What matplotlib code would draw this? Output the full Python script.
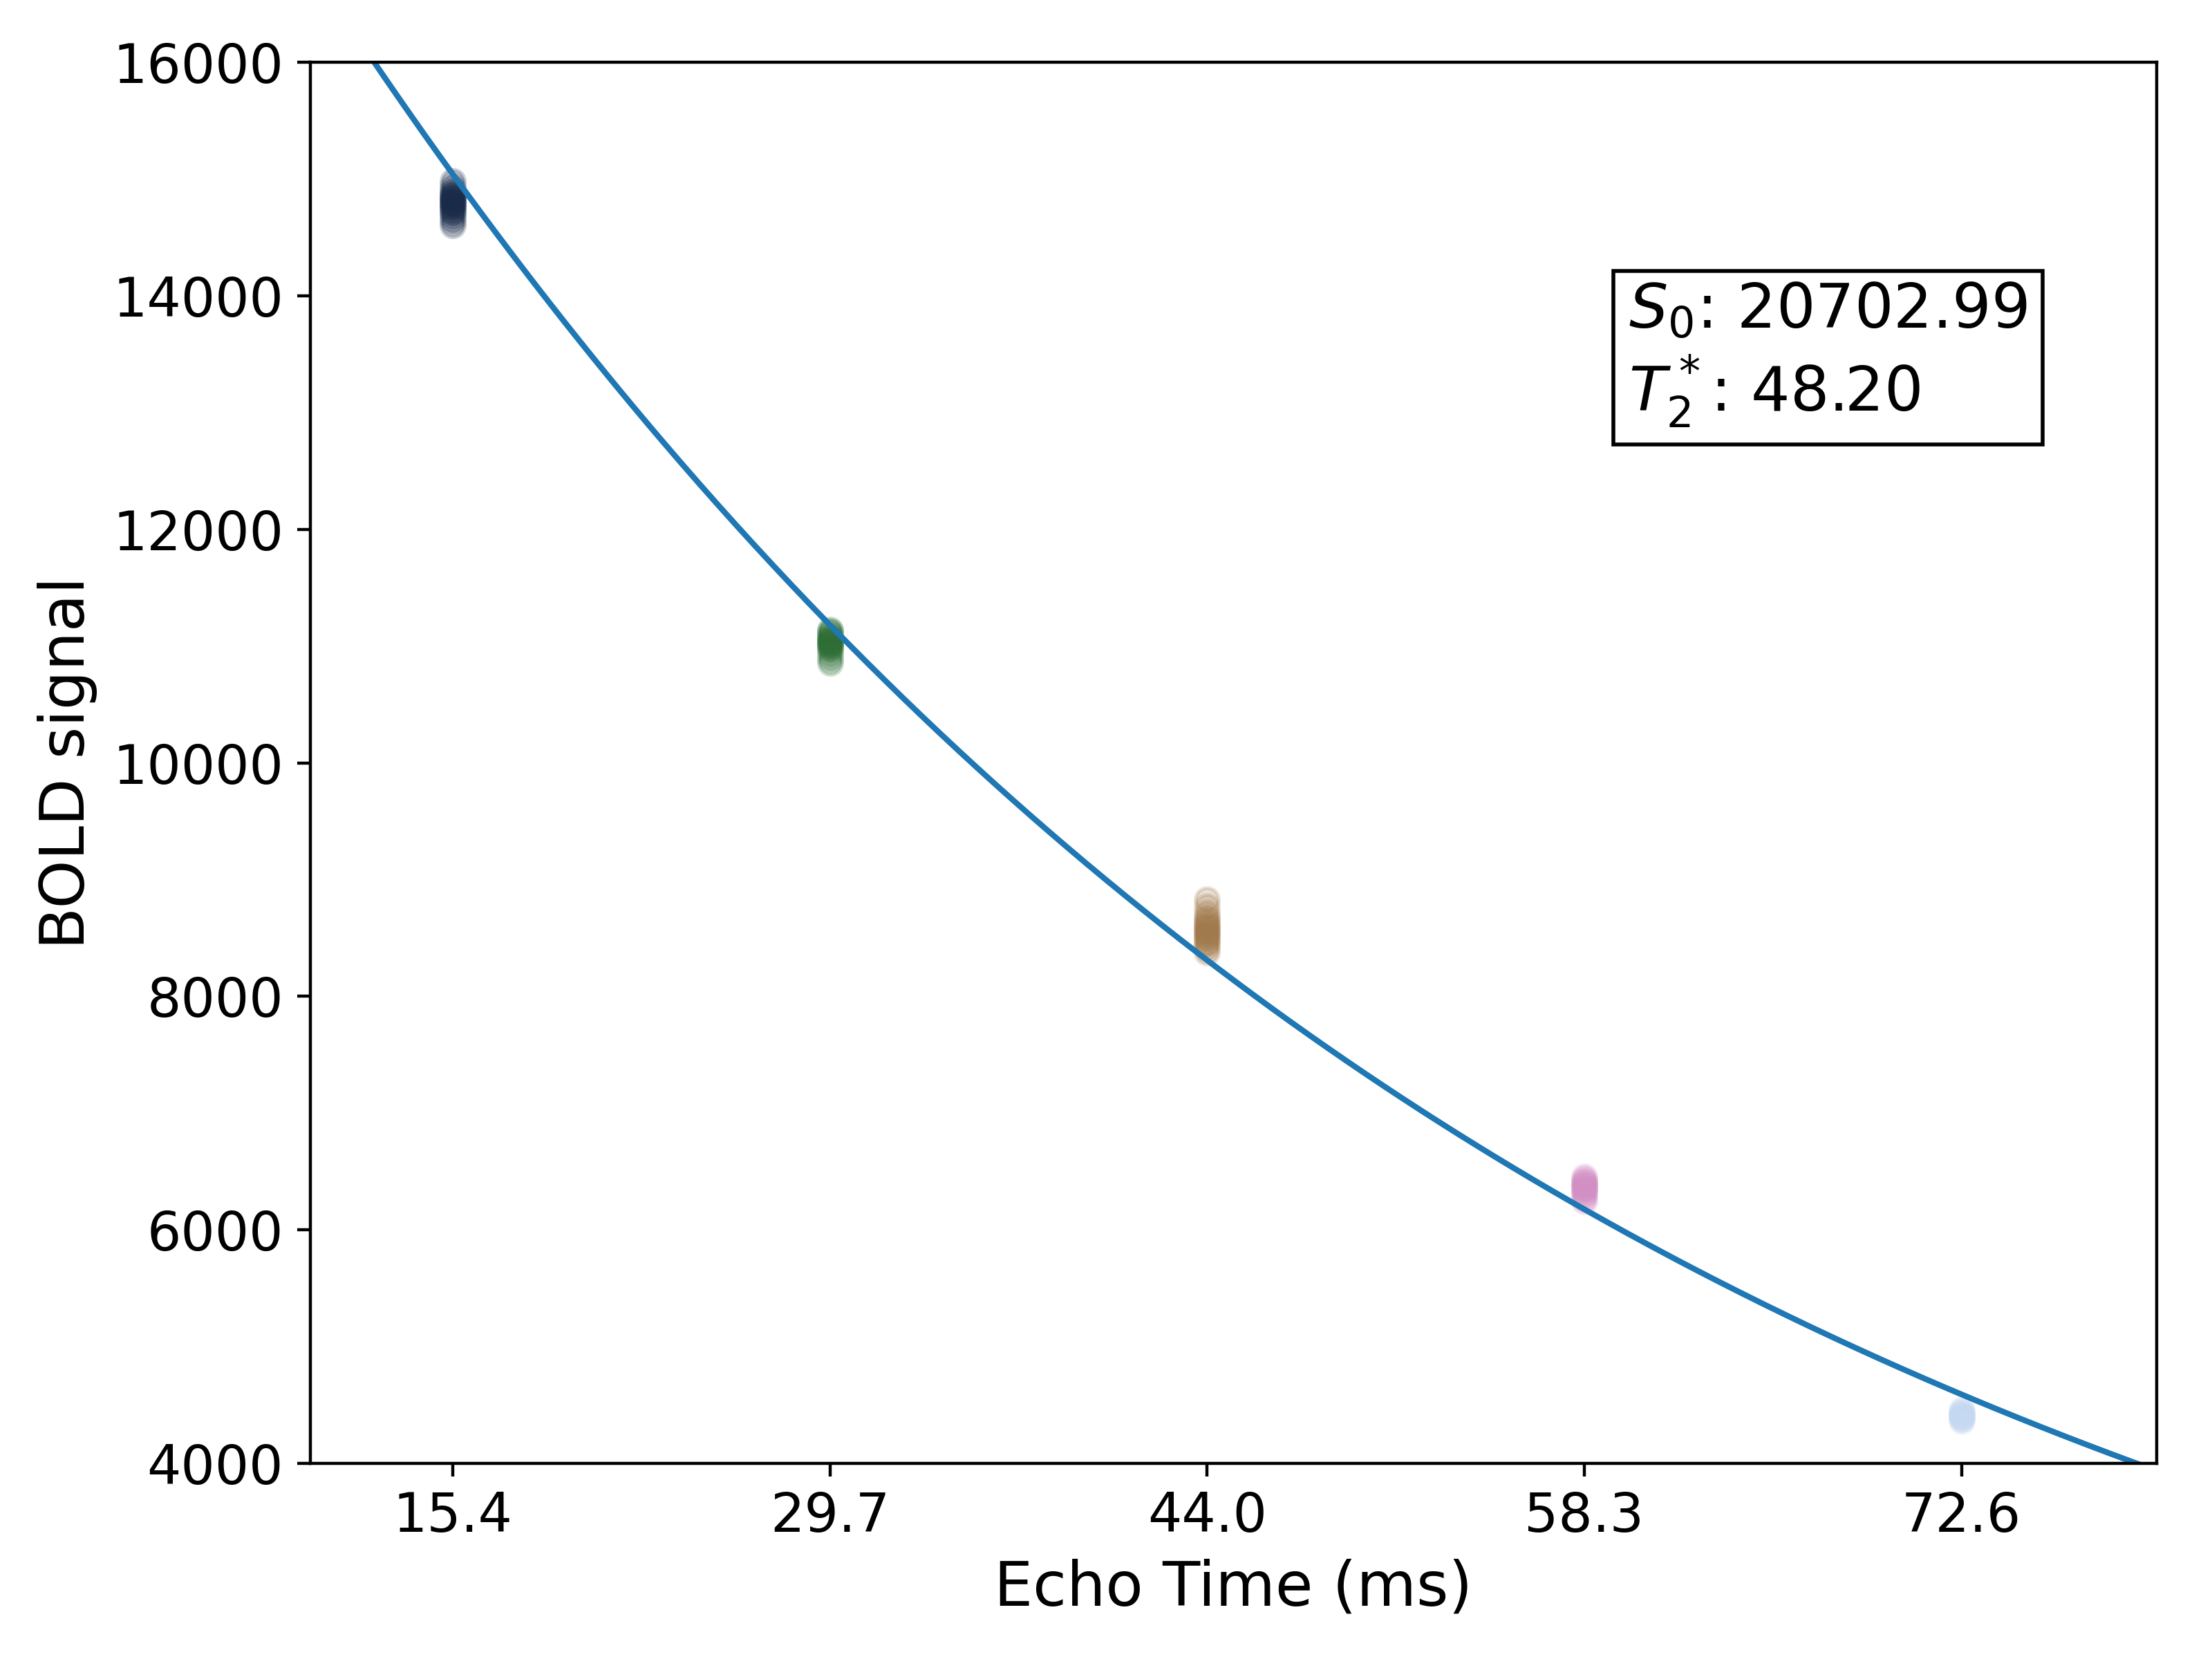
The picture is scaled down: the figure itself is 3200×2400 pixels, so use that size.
import numpy as np
import matplotlib
matplotlib.use("Agg")
import matplotlib.pyplot as plt

# Echo times (ms) and tick labels
echo_times = [15.4, 29.7, 44.0, 58.3, 72.6]
tick_labels = ["15.4", "29.7", "44.0", "58.3", "72.6"]

# BOLD signal samples per echo
echo1_vals = [14605, 14640, 14670, 14700, 14715, 14730, 14745, 14760, 14770, 14780,
              14790, 14800, 14810, 14820, 14830, 14840, 14850, 14860, 14875, 14890,
              14910, 14940, 14980]
echo2_vals = [10855, 10890, 10925, 10960, 10980, 10995, 11005, 11015, 11025, 11035,
              11045, 11055, 11065, 11075, 11090, 11110, 11125, 11140]
echo3_vals = [8375, 8410, 8445, 8460, 8480, 8500, 8515, 8530, 8545, 8560, 8575,
              8590, 8605, 8620, 8640, 8660, 8680, 8720, 8770, 8830]
echo4_vals = [6245, 6275, 6300, 6315, 6330, 6345, 6355, 6365, 6375, 6385, 6395,
              6405, 6420, 6435, 6455]
echo5_vals = [4362, 4375, 4385, 4395, 4405, 4415, 4425, 4435, 4448, 4460]

echo_colors = ["#1a2b4a", "#2d6e35", "#a1784a", "#d28fc4", "#c3d8f1"]

# Fitted model parameters
S0 = 20702.99
T2star = 48.20

fig = plt.figure(figsize=(8, 6), dpi=400)
ax = fig.add_axes([0.1403, 0.1179, 0.8347, 0.8446])

all_vals = [echo1_vals, echo2_vals, echo3_vals, echo4_vals, echo5_vals]
for te, vals, col in zip(echo_times, all_vals, echo_colors):
    ax.scatter([te] * len(vals), vals, color=col, alpha=0.22, s=36, zorder=1)

t = np.linspace(10, 80, 400)
ax.plot(t, S0 * np.exp(-t / T2star), color="#1f77b4", lw=1.5, zorder=2)

ax.set_xlim(10, 80)
ax.set_ylim(4000, 16000)
ax.set_xticks(echo_times)
ax.set_xticklabels(tick_labels)
ax.tick_params(labelsize=14)
ax.set_xlabel("Echo Time (ms)", fontsize=16)
ax.set_ylabel("BOLD signal", fontsize=16)

ax.text(0.714, 0.8436, "$S_0$: {:.2f}\n$T_2^*$: {:.2f}".format(S0, T2star),
        transform=ax.transAxes, fontsize=16, va="top", ha="left",
        bbox=dict(facecolor="white", edgecolor="black"))

fig.savefig("out.png", dpi=400)
